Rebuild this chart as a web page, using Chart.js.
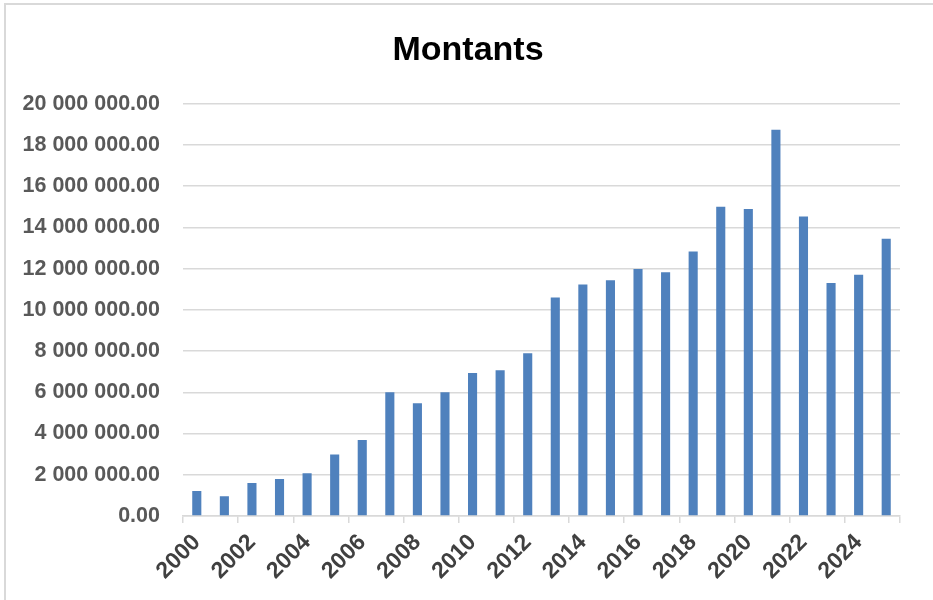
<!DOCTYPE html>
<html>
<head>
<meta charset="utf-8">
<script src="https://cdn.jsdelivr.net/npm/chart.js@4/dist/chart.umd.min.js"></script>
<style>
  html, body { margin: 0; padding: 0; background: #fff; }
  #wrap { position: relative; width: 933px; height: 600px; overflow: hidden; }
  #frame { position: absolute; left: 4px; top: 3px; width: 1000px; height: 700px;
           border-top: 2px solid #d9d9d9; border-left: 2px solid #d9d9d9; }
  canvas { position: absolute; left: 0; top: 0; }
</style>
</head>
<body>
<div id="wrap">
  <div id="frame"></div>
  <canvas id="montantsChart" width="933" height="600"></canvas>
</div>
<script>
var years = ['2000', '2001', '2002', '2003', '2004', '2005', '2006', '2007', '2008', '2009',
             '2010', '2011', '2012', '2013', '2014', '2015', '2016', '2017', '2018', '2019',
             '2020', '2021', '2022', '2023', '2024', '2025'];
var montants = [1210000, 960000, 1600000, 1800000, 2070000, 2980000, 3690000, 6000000, 5470000, 6000000,
                6940000, 7070000, 7900000, 10600000, 11230000, 11440000, 11990000, 11830000, 12830000, 15010000,
                14890000, 18740000, 14530000, 11300000, 11700000, 13450000];
var yMin = 0;
var yMax = 20000000;
var yStep = 2000000;

function formatMontant(v) {
    var parts = Number(v).toFixed(2).split('.');
    return parts[0].replace(/\B(?=(\d{3})+(?!\d))/g, ' ') + '.' + parts[1];
}

// the excel title sits a bit right of the canvas centre
var titleShift = {
    id: 'titleShift',
    afterLayout: function (chart) {
        if (chart.titleBlock) chart.titleBlock.left += 24;
    }
};

var ctx = document.getElementById('montantsChart').getContext('2d');
var chart = new Chart(ctx, {
    type: 'bar',
    data: {
        labels: years,
        datasets: [{
            label: 'Montants',
            data: montants,
            backgroundColor: '#4f81bd',
            borderWidth: 0,
            categoryPercentage: 1,
            barPercentage: 0.33
        }]
    },
    options: {
        responsive: false,
        animation: false,
        devicePixelRatio: 1,
        layout: { padding: { top: 8, left: 12, right: 33, bottom: 0 } },
        plugins: {
            legend: { display: false },
            tooltip: { enabled: false },
            title: {
                display: true,
                text: 'Montants',
                color: '#000',
                font: { family: 'Liberation Sans', size: 34, weight: 'bold' },
                padding: { top: 22, bottom: 33 }
            }
        },
        scales: {
            x: {
                offset: true,
                border: { display: true, color: '#d9d9d9', width: 1.5 },
                grid: {
                    offset: true,
                    drawOnChartArea: false,
                    drawTicks: true,
                    tickLength: 7,
                    lineWidth: 1.5,
                    color: function (c) {
                        return (c.index === undefined || c.index % 2 === 0) ? '#d9d9d9' : 'rgba(0,0,0,0)';
                    }
                },
                ticks: {
                    autoSkip: false,
                    minRotation: 45,
                    maxRotation: 45,
                    padding: 6,
                    color: '#404040',
                    font: { family: 'Liberation Sans', size: 23, weight: 'bold' },
                    callback: function (val, i) { return i % 2 === 0 ? years[i] : ''; }
                },
                afterFit: function (scale) { scale.height = 84; }
            },
            y: {
                min: yMin,
                max: yMax,
                border: { display: false },
                grid: { color: '#d9d9d9', lineWidth: 1.5, drawTicks: false },
                ticks: {
                    stepSize: yStep,
                    padding: 23,
                    color: '#595959',
                    font: { family: 'Liberation Sans', size: 21.5, weight: 'bold' },
                    callback: function (v) { return formatMontant(v); }
                },
                afterFit: function (scale) { scale.width = 171; }
            }
        }
    },
    plugins: [titleShift]
});
</script>
</body>
</html>
